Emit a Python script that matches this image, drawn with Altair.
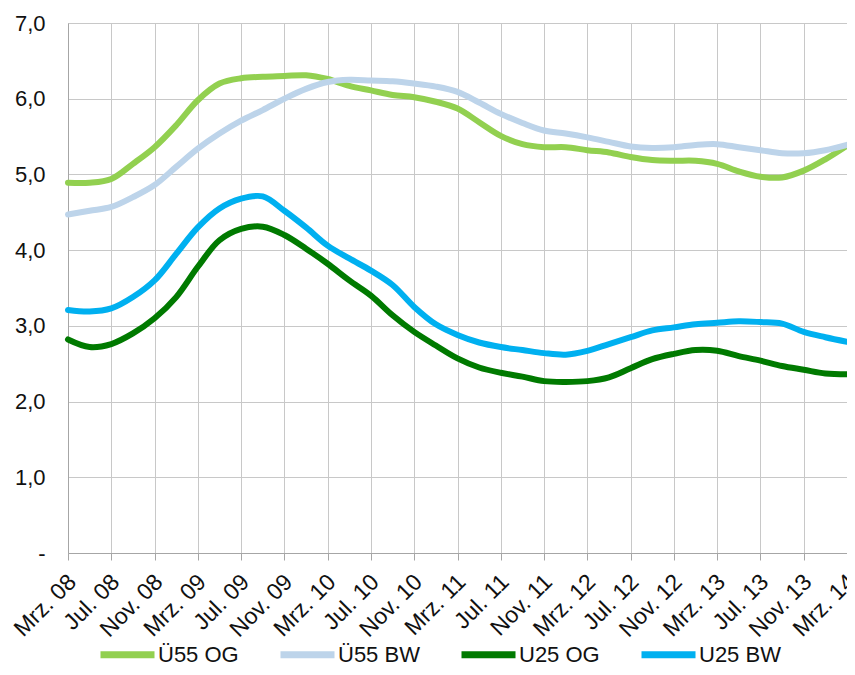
import altair as alt
import pandas as pd

# month index (0 = Mrz. 08), sampled every 2 months
months = list(range(0, 73, 2))

x_labels = ["Mrz. 08", "Jul. 08", "Nov. 08", "Mrz. 09", "Jul. 09", "Nov. 09",
            "Mrz. 10", "Jul. 10", "Nov. 10", "Mrz. 11", "Jul. 11", "Nov. 11",
            "Mrz. 12", "Jul. 12", "Nov. 12", "Mrz. 13", "Jul. 13", "Nov. 13",
            "Mrz. 14"]

series = ["Ü55 OG", "Ü55 BW", "U25 OG", "U25 BW"]
colors = ["#92D050", "#BDD4EA", "#007A00", "#00B0F0"]

u55_og = [4.89, 4.89, 4.94, 5.14, 5.36, 5.65, 5.98, 6.20, 6.27, 6.29,
          6.30, 6.31, 6.26, 6.17, 6.11, 6.05, 6.02, 5.96, 5.87, 5.69,
          5.51, 5.40, 5.36, 5.36, 5.32, 5.29, 5.23, 5.19, 5.18, 5.18,
          5.14, 5.04, 4.97, 4.96, 5.05, 5.20, 5.38]
u55_bw = [4.47, 4.52, 4.57, 4.70, 4.86, 5.10, 5.34, 5.54, 5.71, 5.85,
          6.00, 6.13, 6.22, 6.25, 6.24, 6.23, 6.20, 6.16, 6.09, 5.95,
          5.80, 5.68, 5.58, 5.54, 5.49, 5.43, 5.37, 5.35, 5.36, 5.39,
          5.40, 5.36, 5.32, 5.28, 5.28, 5.32, 5.39]
u25_og = [2.82, 2.72, 2.76, 2.90, 3.10, 3.38, 3.78, 4.13, 4.28, 4.31,
          4.20, 4.02, 3.82, 3.60, 3.40, 3.14, 2.92, 2.74, 2.57, 2.45,
          2.38, 2.33, 2.27, 2.26, 2.27, 2.32, 2.44, 2.56, 2.63, 2.68,
          2.67, 2.60, 2.54, 2.47, 2.42, 2.37, 2.36]
u25_bw = [3.21, 3.19, 3.23, 3.38, 3.60, 3.95, 4.30, 4.55, 4.68, 4.71,
          4.52, 4.30, 4.06, 3.89, 3.73, 3.54, 3.25, 3.02, 2.88, 2.78,
          2.72, 2.68, 2.64, 2.62, 2.67, 2.76, 2.85, 2.94, 2.98, 3.02,
          3.04, 3.06, 3.05, 3.03, 2.92, 2.85, 2.79]

rows = []
for name, vals in zip(series, [u55_og, u55_bw, u25_og, u25_bw]):
    for m, v in zip(months, vals):
        rows.append({"m": m, "v": v, "s": name})
df = pd.DataFrame(rows)

label_expr = "[" + ",".join("'%s'" % l for l in x_labels) + "][round(datum.value/4)]"
FONT = "Liberation Sans, Arial, sans-serif"

chart = alt.Chart(df).mark_line(
    strokeWidth=6, interpolate="catmull-rom", strokeCap="round", strokeJoin="round"
).encode(
    x=alt.X("m:Q",
            scale=alt.Scale(domain=[0, 72], nice=False, zero=False),
            axis=alt.Axis(values=list(range(0, 73, 4)), labelExpr=label_expr,
                          title=None, labelAngle=-45, labelAlign="right",
                          labelBaseline="middle", labelFontSize=23,
                          labelPadding=18, labelOffset=4, tickSize=7,
                          tickColor="#A6A6A6", domainColor="#A6A6A6",
                          gridColor="#C8C8C8", labelColor="#111111",
                          labelFont=FONT, labelOverlap=False, labelBound=False,
                          labelFlush=False)),
    y=alt.Y("v:Q",
            scale=alt.Scale(domain=[0, 7], nice=False),
            axis=alt.Axis(values=list(range(0, 8)),
                          labelExpr="datum.value == 0 ? '-' : replace(format(datum.value, '.1f'), '.', ',')",
                          title=None, ticks=False, tickSize=0, labelPadding=23,
                          labelFontSize=22, labelColor="#111111", labelFont=FONT,
                          domainColor="#A6A6A6", gridColor="#C8C8C8")),
    color=alt.Color("s:N",
                    scale=alt.Scale(domain=series, range=colors),
                    sort=series,
                    legend=alt.Legend(title=None, orient="none", legendX=47, legendY=619,
                                      direction="horizontal", columns=4, padding=0,
                                      symbolType="M-3,0L3,0", symbolStrokeWidth=7,
                                      symbolSize=324, labelFontSize=22,
                                      labelFont=FONT, labelColor="#111111",
                                      columnPadding=27, labelOffset=18)),
).properties(
    width=779, height=530,
    autosize=alt.AutoSizeParams(type="none"),
    padding={"left": 60, "top": 15, "right": 0, "bottom": 114},
).configure_view(stroke="#C8C8C8")

chart.save("out.html", embed_options={"renderer": "svg", "actions": False})
